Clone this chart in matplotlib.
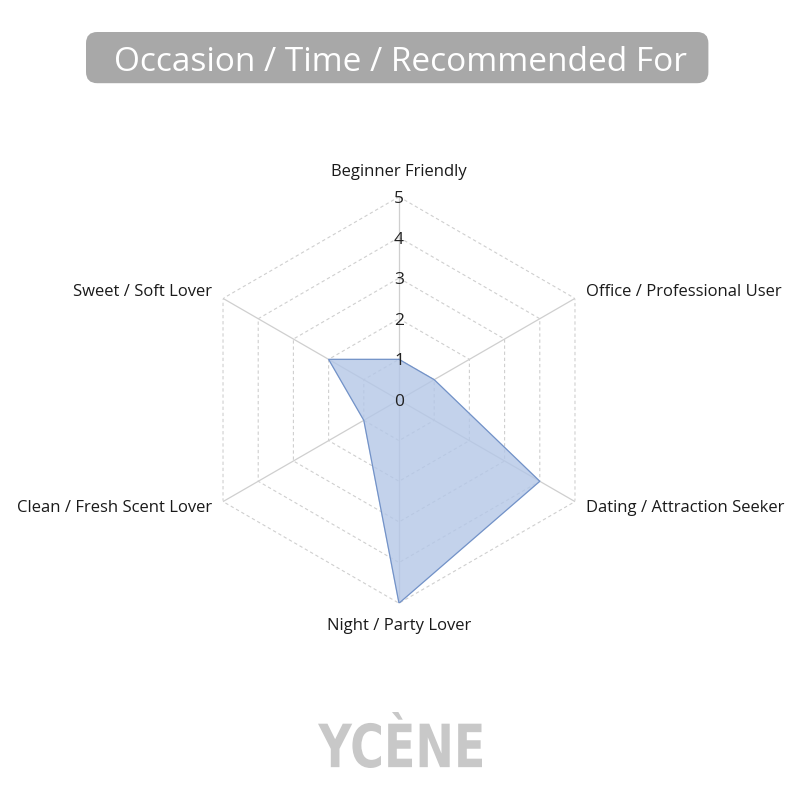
import numpy as np
import matplotlib
matplotlib.use("Agg")
import matplotlib.pyplot as plt
from matplotlib.patches import FancyBboxPatch, PathPatch
from matplotlib.textpath import TextPath
from matplotlib.font_manager import FontProperties
from matplotlib.transforms import Affine2D

# ── Data ──────────────────────────────────────────────────────────
categories = [
    "Beginner Friendly",
    "Office / Professional User",
    "Dating / Attraction Seeker",
    "Night / Party Lover",
    "Clean / Fresh Scent Lover",
    "Sweet / Soft Lover",
]
scores = [1, 1, 4, 5, 1, 2]
rings = [1, 2, 3, 4, 5]
tick_labels = ["0", "1", "2", "3", "4", "5"]
title = "Occasion / Time / Recommended For"
brand = "YCÈNE"

FONT = ["Open Sans", "DejaVu Sans"]
GRID = "#cfcfcf"

fig = plt.figure(figsize=(8, 8), dpi=100)
fig.patch.set_facecolor("white")

# ── Title banner ──────────────────────────────────────────────────
fig.patches.append(FancyBboxPatch(
    (0.1075 + 0.012, 1 - 0.104 + 0.012), 0.778 - 0.024, 0.064 - 0.024,
    boxstyle="round,pad=0.012,rounding_size=0.014",
    transform=fig.transFigure, facecolor="#a8a8a8", edgecolor="none",
))
fig.text(0.5, 1 - 0.078, title, ha="center", va="center",
         color="white", fontsize=24, fontweight="normal", family=FONT)

# ── Radar ─────────────────────────────────────────────────────────
R = 0.254
cx, cy = 0.49875, 0.5
ax = fig.add_axes([cx - R, cy - R, 2 * R, 2 * R], projection="polar")
ax.set_theta_zero_location("N")
ax.set_theta_direction(-1)
ax.set_ylim(0, 5)
ax.axis("off")

n = len(categories)
angles = np.linspace(0, 2 * np.pi, n, endpoint=False)
closed = np.concatenate([angles, angles[:1]])

for r in rings:
    ax.plot(closed, [r] * (n + 1), color=GRID, lw=0.8, ls=(0, (3, 2.5)),
            zorder=1)
for a in angles:
    ax.plot([a, a], [0, 5], color=GRID, lw=0.9, zorder=1)

vals = scores + scores[:1]
ax.fill(closed, vals, color="#b4c7e7", alpha=0.8, zorder=2)
ax.plot(closed, vals, color="#7090c6", lw=0.8, zorder=3)

for i, lab in enumerate(tick_labels):
    ax.annotate(lab, (0, i), xytext=(0, -1.5), textcoords="offset points",
                ha="center", va="center", fontsize=12.5,
                color="#222222", family=FONT, zorder=4)

label_pos = [
    (5.6, "center", "center"),
    (5.32, "left", "center"),
    (5.32, "left", "center"),
    (5.57, "center", "center"),
    (5.32, "right", "center"),
    (5.32, "right", "center"),
]
for a, lab, (r, ha, va) in zip(angles, categories, label_pos):
    ax.text(a, r, lab, ha=ha, va=va, fontsize=12, color="#1a1a1a",
            family=FONT, clip_on=False)

# ── Brand mark (condensed bold) ───────────────────────────────────
fp = FontProperties(family="DejaVu Sans", weight="bold")
tp = TextPath((0, 0), brand, size=1, prop=fp)
ext = tp.get_extents()
w_px, h_px = 164, 56
sx = w_px / ext.width
sy = h_px / ext.height
tr = (Affine2D().translate(-ext.x0, -ext.y0).scale(sx, sy)
      .translate(318, 800 - 768))
logo = PathPatch(tr.transform_path(tp), facecolor="#c8c8c8",
                 edgecolor="none", transform=None)
logo.set_transform(Affine2D() + fig.dpi_scale_trans.inverted()
                   + fig.dpi_scale_trans)
fig.patches.append(logo)

fig.savefig("out.png", dpi=100, facecolor="white")
